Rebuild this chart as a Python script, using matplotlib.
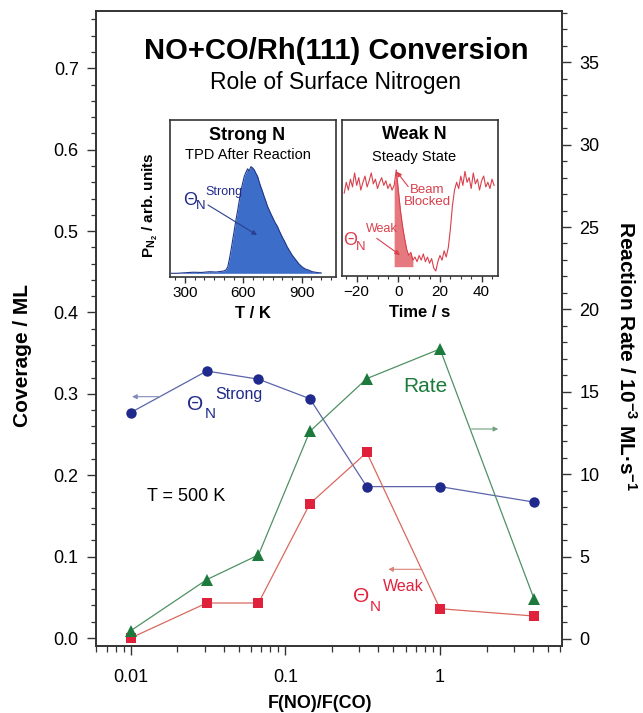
import matplotlib
matplotlib.use("Agg")
import matplotlib.pyplot as plt
from matplotlib.ticker import MultipleLocator, LogLocator, NullFormatter, FixedLocator
import numpy as np

plt.rcParams["font.family"] = "Liberation Sans"
plt.rcParams["mathtext.fontset"] = "custom"
plt.rcParams["mathtext.rm"] = "Liberation Sans"
plt.rcParams["mathtext.bf"] = "Liberation Sans:bold"
plt.rcParams["mathtext.it"] = "Liberation Sans:italic"

# main panel: coverage of strong / weak nitrogen and reaction rate vs flux ratio
flow_ratio = [0.01, 0.031, 0.067, 0.144, 0.336, 1.0, 4.05]
theta_strong = [0.277, 0.328, 0.318, 0.294, 0.186, 0.186, 0.167]
theta_weak = [0.0, 0.043, 0.043, 0.165, 0.228, 0.036, 0.027]
rate = [0.5, 3.6, 5.1, 12.6, 15.8, 17.6, 2.45]

# inset 1: N2 TPD trace after reaction
tpd_temp = [230, 258, 300, 342, 385, 427, 460, 495, 510, 520, 528, 537, 545, 554,
            562, 571, 580, 588, 597, 605, 614, 622, 630, 639, 647, 656, 664, 673,
            681, 690, 698, 707, 715, 724, 736, 749, 762, 775, 787, 800, 812, 825,
            838, 851, 868, 885, 902, 919, 936, 953, 970, 986, 1000]
tpd_signal = [0.0, 0.0, 0.005, 0.01, 0.008, 0.015, 0.012, 0.02, 0.03, 0.06, 0.13,
              0.22, 0.31, 0.41, 0.50, 0.59, 0.69, 0.78, 0.85, 0.91, 0.95, 0.98,
              0.96, 1.0, 0.99, 0.97, 0.94, 0.91, 0.86, 0.81, 0.77, 0.72, 0.68,
              0.63, 0.58, 0.53, 0.48, 0.44, 0.39, 0.34, 0.30, 0.25, 0.21, 0.17,
              0.13, 0.09, 0.06, 0.04, 0.03, 0.016, 0.01, 0.006, 0.004]

# inset 2: steady-state weak-N signal, beam blocked at t = 0
time_s = list(range(-26, 47))
weak_signal = [0.53, 0.60, 0.55, 0.62, 0.57, 0.66, 0.58, 0.63, 0.55, 0.60, 0.64,
               0.57, 0.61, 0.66, 0.59, 0.62, 0.56, 0.60, 0.63, 0.58, 0.61, 0.56,
               0.59, 0.55, 0.58, 0.68, 0.55, 0.42, 0.32, 0.24, 0.17, 0.13, 0.15,
               0.10, 0.12, 0.09, 0.13, 0.10, 0.14, 0.09, 0.12, 0.08, 0.11, 0.05,
               0.03, 0.09, 0.13, 0.10, 0.16, 0.12, 0.18, 0.30, 0.45, 0.55, 0.60,
               0.56, 0.64, 0.58, 0.67, 0.60, 0.63, 0.56, 0.66, 0.59, 0.62, 0.55,
               0.61, 0.64, 0.57, 0.60, 0.56, 0.62, 0.58]
blocked_window = (-2, 7)
weak_floor = 0.058

BLUE = "#1f2a8c"
BLUE_LINE = "#5a65aa"
RED = "#e0213b"
RED_LINE = "#d8695f"
GREEN = "#1b7a3c"
GREEN_LINE = "#4f9163"
WEAK_RED = "#d9404c"
FRAME = "#333333"

fig = plt.figure(figsize=(6.43, 7.13), dpi=100)
ax = fig.add_axes([0.1493, 0.094, 0.7247, 0.8906])
ax2 = ax.twinx()

ax.plot(flow_ratio, theta_strong, "-", color=BLUE_LINE, lw=0.9, zorder=2)
ax.plot(flow_ratio, theta_strong, "o", color=BLUE, ms=7.5, mew=0, zorder=3)
ax.plot(flow_ratio, theta_weak, "-", color=RED_LINE, lw=0.9, zorder=2)
ax.plot(flow_ratio, theta_weak, "s", color=RED, ms=7.5, mew=0, zorder=3)
ax2.plot(flow_ratio, rate, "-", color=GREEN_LINE, lw=0.9, zorder=2)
ax2.plot(flow_ratio, rate, "^", color=GREEN, ms=8, mew=0, zorder=3)

ax.set_xscale("log")
ax.set_xlim(0.00596, 6.15)
ax.set_ylim(-0.0098, 0.7704)
ax2.set_ylim(-0.425, 38.11)

ax.xaxis.set_major_locator(FixedLocator([0.01, 0.1, 1]))
ax.set_xticklabels(["0.01", "0.1", "1"])
ax.xaxis.set_minor_locator(LogLocator(base=10, subs=np.arange(2, 10)))
ax.xaxis.set_minor_formatter(NullFormatter())
ax.yaxis.set_major_locator(MultipleLocator(0.1))
ax.yaxis.set_minor_locator(MultipleLocator(0.02))
ax.yaxis.set_major_formatter(plt.FuncFormatter(lambda v, p: f"{v:.1f}"))
ax2.yaxis.set_major_locator(MultipleLocator(5))
ax2.yaxis.set_minor_locator(MultipleLocator(1))

for a in (ax, ax2):
    for s in a.spines.values():
        s.set_color(FRAME)
        s.set_linewidth(1.2)
    a.tick_params(which="major", direction="out", length=6.5, width=1, colors=FRAME,
                  labelsize=13, labelcolor="black", pad=6)
    a.tick_params(which="minor", direction="out", length=3.5, width=0.9, colors=FRAME)
ax.tick_params(axis="x", which="major", length=6.5, pad=10)
ax.tick_params(axis="x", which="minor", length=4)

ax.set_xlabel("F(NO)/F(CO)", fontsize=13, fontweight="bold", va="center")
ax.xaxis.set_label_coords(0.48, -0.090)
ax.set_ylabel("Coverage / ML", fontsize=15, fontweight="bold")
ax.yaxis.set_label_coords(-0.137, 0.457)
ax2.set_ylabel(r"Reaction Rate / 10$^{\mathbf{-3}}$ ML·s$^{\mathbf{-1}}$",
               fontsize=15, fontweight="bold", rotation=270, va="center")
ax2.yaxis.set_label_coords(1.137, 0.457)

fig.text(0.5233, 0.929, "NO+CO/Rh(111) Conversion", fontsize=21, fontweight="bold",
         ha="center", va="center")
fig.text(0.5218, 0.884, "Role of Surface Nitrogen", fontsize=16.5, ha="center", va="center")

ax.text(0.0127, 0.174, "T = 500 K", fontsize=13, ha="left", va="center")
ax.text(0.577, 0.309, "Rate", fontsize=15, color=GREEN, ha="left", va="center")

ax.text(0.0231, 0.287, "Θ", fontsize=15, color=BLUE, ha="left", va="center")
ax.text(0.0302, 0.275, "N", fontsize=11, color=BLUE, ha="left", va="center")
ax.text(0.0350, 0.2986, "Strong", fontsize=11.5, color=BLUE, ha="left", va="center")
ax.text(0.274, 0.051, "Θ", fontsize=15, color=RED, ha="left", va="center")
ax.text(0.352, 0.0385, "N", fontsize=11, color=RED, ha="left", va="center")
ax.text(0.425, 0.063, "Weak", fontsize=11.5, color=RED, ha="left", va="center")

arrow_kw = dict(arrowstyle="-|>", lw=0.8, mutation_scale=7, shrinkA=0, shrinkB=0)
ax.annotate("", xy=(0.0102, 0.2965), xytext=(0.0155, 0.2965),
            arrowprops=dict(color="#7f8ab8", **arrow_kw))
ax.annotate("", xy=(2.38, 0.2568), xytext=(1.60, 0.2568),
            arrowprops=dict(color="#6fa27f", **arrow_kw))
ax.annotate("", xy=(0.463, 0.0844), xytext=(0.762, 0.0844),
            arrowprops=dict(color="#d98479", **arrow_kw))

# inset 1: strong N (TPD)
in1 = fig.add_axes([0.2644, 0.6119, 0.2577, 0.2198])
in1.fill_between(tpd_temp, tpd_signal, 0, color="#3c6dc8", lw=0)
in1.plot(tpd_temp, tpd_signal, color="#22378c", lw=0.8)
in1.set_xlim(223, 1075)
in1.set_ylim(-0.032, 1.438)
in1.xaxis.set_major_locator(FixedLocator([300, 600, 900]))
in1.xaxis.set_minor_locator(MultipleLocator(50))
in1.set_yticks([])
in1.set_xlabel("T / K", fontsize=12, fontweight="bold", labelpad=4)
in1.set_ylabel(r"P$_{\mathbf{N_2}}$ / arb. units", fontsize=11, fontweight="bold")
in1.yaxis.set_label_coords(-0.06, 0.457)
in1.text(0.468, 0.904, "Strong N", transform=in1.transAxes, fontsize=13,
         fontweight="bold", ha="center", va="center")
in1.text(0.468, 0.777, "TPD After Reaction", transform=in1.transAxes, fontsize=10.5,
         ha="center", va="center")
in1.text(0.078, 0.489, "Θ", transform=in1.transAxes, fontsize=13, color=BLUE,
         ha="left", va="center")
in1.text(0.158, 0.452, "N", transform=in1.transAxes, fontsize=9.5, color=BLUE,
         ha="left", va="center")
in1.text(0.215, 0.540, "Strong", transform=in1.transAxes, fontsize=9, color=BLUE,
         ha="left", va="center")
in1.annotate("", xy=(0.525, 0.266), xytext=(0.229, 0.458), xycoords="axes fraction",
             textcoords="axes fraction", arrowprops=dict(color="#2b3f8f", **arrow_kw))

# inset 2: weak N (steady state)
in2 = fig.add_axes([0.5314, 0.6133, 0.2435, 0.2184])
t = np.array(time_s)
w = np.array(weak_signal)
in2.fill_between(t, w, weak_floor, where=(t >= blocked_window[0]) & (t <= blocked_window[1]),
                 color="#e2606a", lw=0, alpha=0.85)
in2.plot(t, w, color=WEAK_RED, lw=0.8)
in2.set_xlim(-27.2, 48)
in2.set_ylim(0, 1)
in2.xaxis.set_major_locator(FixedLocator([-20, 0, 20, 40]))
in2.xaxis.set_minor_locator(MultipleLocator(5))
in2.set_yticks([])
in2.set_xlabel("Time / s", fontsize=12, fontweight="bold", labelpad=4)
in2.text(0.462, 0.904, "Weak N", transform=in2.transAxes, fontsize=13,
         fontweight="bold", ha="center", va="center")
in2.text(0.462, 0.762, "Steady State", transform=in2.transAxes, fontsize=10.5,
         ha="center", va="center")
in2.text(0.545, 0.512, "Beam\nBlocked", transform=in2.transAxes, fontsize=9.5,
         color=WEAK_RED, ha="center", va="center", linespacing=0.95)
in2.annotate("", xy=(0.351, 0.668), xytext=(0.425, 0.572), xycoords="axes fraction",
             textcoords="axes fraction", arrowprops=dict(color=WEAK_RED, **arrow_kw))
in2.text(0.008, 0.229, "Θ", transform=in2.transAxes, fontsize=13, color=WEAK_RED,
         ha="left", va="center")
in2.text(0.092, 0.186, "N", transform=in2.transAxes, fontsize=9.5, color=WEAK_RED,
         ha="left", va="center")
in2.text(0.152, 0.300, "Weak", transform=in2.transAxes, fontsize=9, color=WEAK_RED,
         ha="left", va="center")
in2.annotate("", xy=(0.372, 0.133), xytext=(0.224, 0.240), xycoords="axes fraction",
             textcoords="axes fraction", arrowprops=dict(color=WEAK_RED, **arrow_kw))

for a in (in1, in2):
    for s in a.spines.values():
        s.set_color(FRAME)
        s.set_linewidth(1.2)
    a.tick_params(which="major", direction="out", length=4, width=1, colors=FRAME,
                  labelsize=11, labelcolor="black", pad=3)
    a.tick_params(which="minor", direction="out", length=2.5, width=0.8, colors=FRAME)

fig.savefig("out.png", dpi=100)
